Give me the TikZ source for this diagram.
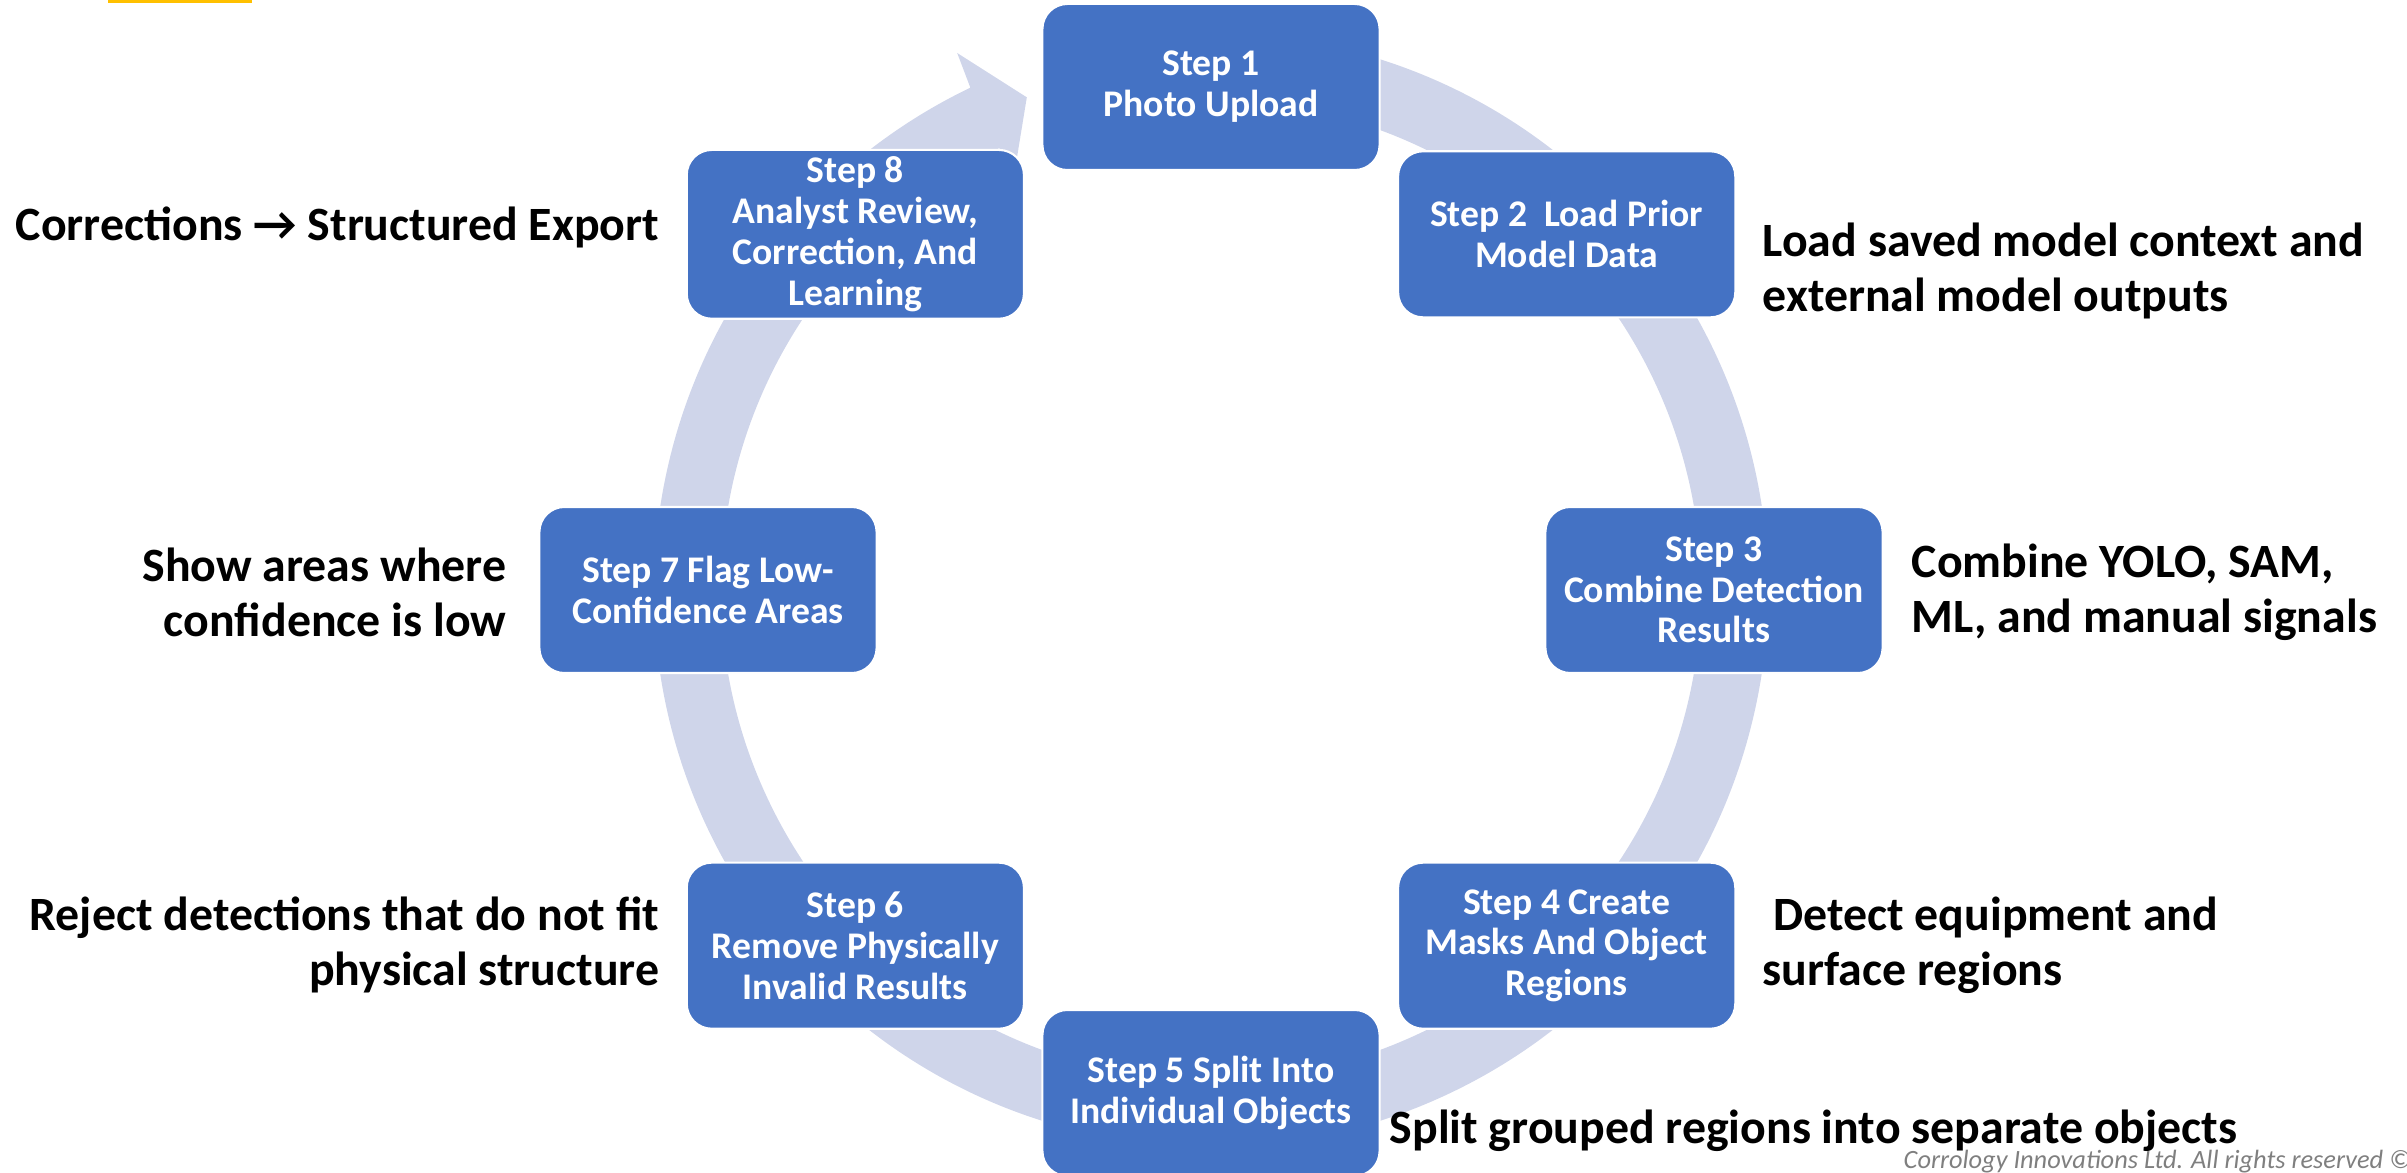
\documentclass[tikz,border=0pt]{standalone}
\usepackage{fontspec}
\setmainfont{Carlito}
\definecolor{stepblue}{HTML}{4472C4}
\definecolor{ringblue}{HTML}{CFD5EA}
\definecolor{markyellow}{HTML}{FFC000}
\definecolor{copygray}{HTML}{7F7F7F}
\begin{document}
\begin{tikzpicture}[x=0.01cm,y=0.01cm,
  stepbox/.style={fill=stepblue,draw=white,line width=0.6pt,rounded corners=0.25cm,
    minimum width=3.37cm,minimum height=1.66cm,inner sep=2pt,text=white,align=center,
    font=\bfseries\fontsize{10.7}{11.6}\selectfont},
  note/.style={inner sep=0pt,font=\bfseries\fontsize{13.6}{15.6}\selectfont}]

\clip (0,0) rectangle (2407,1172);
\fill[markyellow] (108,1169) rectangle (252,1172);

\coordinate (c) at (1211,582);

\begin{scope}[shift={(c)}]
% ring arrow behind the steps
\fill[ringblue] (75:557) arc[start angle=75,end angle=-244.4,radius=557]
  -- (115.3:594) -- (110.5:526) -- (115.5:458) -- (-244.4:490)
  arc[start angle=-244.4,end angle=75,radius=490] -- cycle;

\foreach \n/\a/\txt in {1/90/{Step 1\\Photo Upload},
    2/45/{Step 2\ \ Load Prior\\Model Data},
    3/0/{Step 3\\Combine Detection\\Results},
    4/-45/{Step 4 Create\\Masks And Object\\Regions},
    5/-90/{Step 5 Split Into\\Individual Objects},
    6/-135/{Step 6\\Remove Physically\\Invalid Results},
    7/180/{Step 7 Flag Low-\\Confidence Areas},
    8/135/{Step 8\\Analyst Review,\\Correction, And\\Learning}}
  \node[stepbox] (s\n) at (\a:503) {\txt};
\end{scope}

\node[note,anchor=east] (corr) at (660,945) {Corrections → Structured Export};
\node[note,anchor=west,align=left] (load) at (1762,901) {Load saved model context and\\external model outputs};
\node[note,anchor=west,align=left] (comb) at (1911,580) {Combine YOLO, SAM,\\ML, and manual signals};
\node[note,anchor=west,align=left] (detect) at (1762,227) {\ Detect equipment and\\surface regions};
\node[note,anchor=west] (split) at (1389,41) {Split grouped regions into separate objects};
\node[note,anchor=east,align=right] (reject) at (660,227) {Reject detections that do not fit\\physical structure};
\node[note,anchor=east,align=right] (show) at (507,580) {Show areas where\\confidence is low};

\node[anchor=base west,inner sep=0pt,text=copygray,font=\itshape\fontsize{7.5}{9}\selectfont]
  (copy) at (1903,4) {Corrology Innovations Ltd. All rights reserved ©};

\end{tikzpicture}
\end{document}
